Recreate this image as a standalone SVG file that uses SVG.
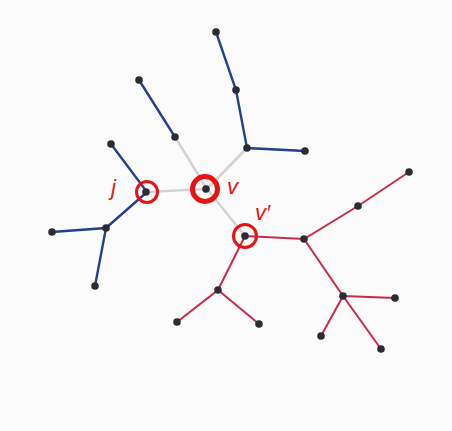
<svg xmlns="http://www.w3.org/2000/svg" width="452" height="431" viewBox="0 0 452 431">
<style>
.b{stroke:#22418a;stroke-width:2.4;fill:none;stroke-linecap:round}
.r{stroke:#c92a4a;stroke-width:2;fill:none;stroke-linecap:round}
.g{stroke:#d2d4d4;stroke-width:2.6;fill:none;stroke-linecap:round}
.n{fill:#2b2c33}
.ring{fill:none;stroke:#e41414}
.lbl{font-family:"Liberation Sans",sans-serif;font-style:italic;font-size:22px;fill:#e41414}
</style>
<rect width="452" height="431" fill="#fbfbfb"/>
<g id="edges">
<path class="g" d="M175,137L207,189M247,148L207,189M147,192L207,189M207,189L245,236"/>
<path class="b" d="M216,32L236,90L247,148L305,151M139,80L175,137M111,144L147,192L106,228L52,232M106,228L95,286"/>
<path class="r" d="M245,236L304,239L358,206L409,172M304,239L343,296L395,298M343,296L321,336M343,296L381,349M245,236L218,290L177,322M218,290L259,324"/>
</g>
<g id="nodes">
<circle class="n" cx="216" cy="32" r="3.8"/>
<circle class="n" cx="236" cy="90" r="3.8"/>
<circle class="n" cx="247" cy="148" r="3.8"/>
<circle class="n" cx="305" cy="151" r="3.8"/>
<circle class="n" cx="139" cy="80" r="3.8"/>
<circle class="n" cx="175" cy="137" r="3.8"/>
<circle class="n" cx="111" cy="144" r="3.8"/>
<circle class="n" cx="106" cy="228" r="3.8"/>
<circle class="n" cx="52" cy="232" r="3.8"/>
<circle class="n" cx="95" cy="286" r="3.8"/>
<circle class="n" cx="304" cy="239" r="3.8"/>
<circle class="n" cx="358" cy="206" r="3.8"/>
<circle class="n" cx="409" cy="172" r="3.8"/>
<circle class="n" cx="343" cy="296" r="3.8"/>
<circle class="n" cx="395" cy="298" r="3.8"/>
<circle class="n" cx="321" cy="336" r="3.8"/>
<circle class="n" cx="381" cy="349" r="3.8"/>
<circle class="n" cx="218" cy="290" r="3.8"/>
<circle class="n" cx="177" cy="322" r="3.8"/>
<circle class="n" cx="259" cy="324" r="3.8"/>
</g>
<g id="node-j">
<circle class="n" cx="146" cy="192" r="3.8"/>
<circle class="ring" cx="147" cy="192" r="10.5" stroke-width="3"/>
<text class="lbl" x="111" y="195">j</text>
</g>
<g id="node-v">
<circle class="n" cx="206" cy="189" r="3.8"/>
<circle class="ring" cx="205" cy="189" r="12.5" stroke-width="5"/>
<text class="lbl" x="227" y="194">v</text>
</g>
<g id="node-vprime">
<circle class="n" cx="245" cy="236" r="3.8"/>
<circle class="ring" cx="245" cy="236" r="11.5" stroke-width="3"/>
<text class="lbl" x="255" y="220">v′</text>
</g>
</svg>
